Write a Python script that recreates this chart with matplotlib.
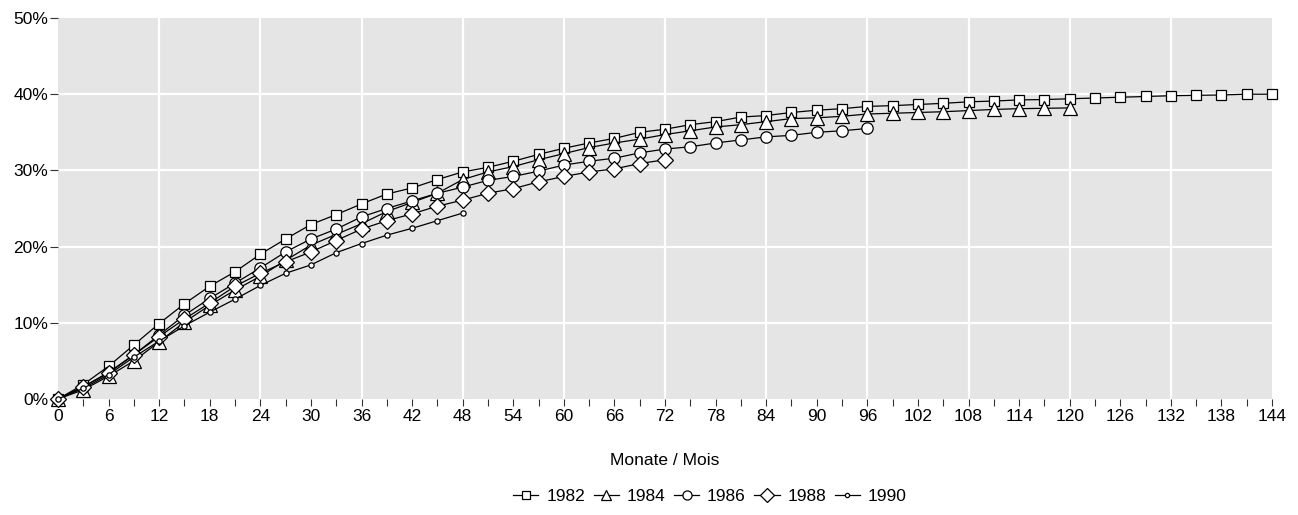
import matplotlib
matplotlib.use("Agg")
import matplotlib.pyplot as plt
from matplotlib.ticker import MultipleLocator, FuncFormatter

plt.rcParams['font.family'] = ['Liberation Sans', 'DejaVu Sans']

months = list(range(0, 145, 3))

s1982 = [0, 1.9, 4.3, 7.1, 9.9, 12.5, 14.8, 16.7, 19.0, 21.0, 22.9, 24.2, 25.6, 26.9,
         27.7, 28.8, 29.8, 30.4, 31.2, 32.1, 32.9, 33.6, 34.2, 35.0, 35.4, 36.0, 36.4,
         37.0, 37.2, 37.6, 37.9, 38.1, 38.4, 38.5, 38.65, 38.8, 39.0, 39.1, 39.25, 39.3,
         39.4, 39.5, 39.6, 39.7, 39.8, 39.85, 39.9, 40.0, 40.0]
s1984 = [0, 1.2, 3.0, 5.0, 7.5, 10.1, 12.3, 14.3, 16.1, 18.2, 20.2, 21.6, 23.0, 24.6,
         25.8, 27.0, 28.8, 29.8, 30.5, 31.4, 32.2, 33.0, 33.6, 34.1, 34.7, 35.2, 35.7,
         36.0, 36.4, 36.8, 36.9, 37.1, 37.4, 37.5, 37.6, 37.7, 37.85, 38.0, 38.1, 38.15, 38.2]
s1986 = [0, 1.6, 3.5, 5.8, 8.4, 11.0, 13.2, 15.2, 17.2, 19.3, 21.0, 22.3, 23.9, 25.0,
         26.0, 27.0, 27.8, 28.7, 29.2, 29.9, 30.7, 31.2, 31.6, 32.3, 32.8, 33.1, 33.6,
         34.0, 34.4, 34.6, 35.0, 35.2, 35.5]
s1988 = [0, 1.6, 3.4, 5.8, 8.2, 10.5, 12.6, 14.8, 16.5, 18.0, 19.3, 20.8, 22.3, 23.4,
         24.3, 25.3, 26.1, 27.0, 27.6, 28.5, 29.2, 29.8, 30.2, 30.9, 31.4]
s1990 = [0, 1.4, 3.2, 5.5, 7.6, 9.6, 11.4, 13.1, 14.9, 16.5, 17.6, 19.2, 20.4, 21.5,
         22.4, 23.4, 24.4]

series = [("1982", s1982, 's', 7.8), ("1984", s1984, '^', 9.5), ("1986", s1986, 'o', 8.2),
          ("1988", s1988, 'D', 8.5), ("1990", s1990, 'o', 3.8)]

fig = plt.figure(figsize=(12.98, 5.15), dpi=100)
ax = fig.add_axes([58/1298, 1-399/515, (1272-58)/1298, (399-18)/515])
ax.set_facecolor('#e5e5e5')

for lab, vals, mk, ms in series:
    ax.plot(months[:len(vals)], vals, color='black', lw=0.9, marker=mk, ms=ms,
            mfc='white', mec='black', mew=0.9, label=lab, clip_on=False)

ax.set_xlim(0, 144)
ax.set_ylim(0, 50)
for v in range(12, 144, 12):
    ax.axvline(v, color='white', lw=1.6, zorder=0.5)
for v in range(10, 50, 10):
    ax.axhline(v, color='white', lw=1.6, zorder=0.5)

ax.xaxis.set_major_locator(MultipleLocator(6))
ax.xaxis.set_minor_locator(MultipleLocator(3))
ax.yaxis.set_major_locator(MultipleLocator(10))
ax.yaxis.set_major_formatter(FuncFormatter(lambda v, p: f"{int(v)}%"))
ax.tick_params(axis='x', which='both', length=5, width=0.8, color='#333333', labelsize=12.5, pad=2)
ax.tick_params(axis='y', length=6, width=0.8, color='#333333', labelsize=12.5, pad=1)
for sp in ax.spines.values():
    sp.set_visible(False)

ax.set_xlabel("Monate / Mois", fontsize=12.5, labelpad=21)
leg = ax.legend(loc='center', bbox_to_anchor=(0.537, -0.257), ncol=5, frameon=False,
                fontsize=12.5, handlelength=1.45, columnspacing=0.5, handletextpad=0.45,
                markerscale=0.8)

fig.savefig("out.png", dpi=100)
